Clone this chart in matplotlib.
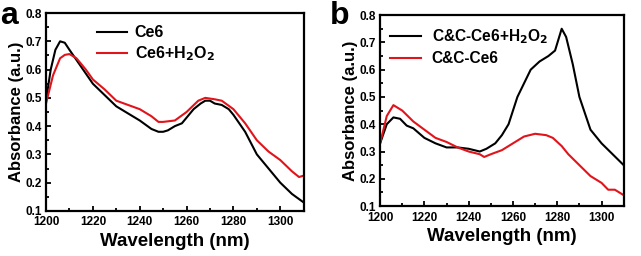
import numpy as np
import matplotlib
matplotlib.use("Agg")
import matplotlib.pyplot as plt
from matplotlib.ticker import MultipleLocator

plt.rcParams['font.family'] = ['Liberation Sans', 'DejaVu Sans']
plt.rcParams['font.weight'] = 'bold'

# Panel a
a_ce6_x = [1200, 1202, 1204, 1206, 1208, 1210, 1215, 1220, 1225, 1230, 1235, 1240, 1245, 1248, 1250, 1252, 1255, 1258,
           1260, 1263, 1266, 1268, 1270, 1272, 1275, 1278, 1280, 1285, 1290, 1295, 1300, 1305, 1310]
a_ce6_y = [0.49, 0.60, 0.67, 0.70, 0.695, 0.67, 0.61, 0.55, 0.51, 0.47, 0.445, 0.42, 0.39, 0.38, 0.38, 0.385, 0.40, 0.41,
           0.43, 0.46, 0.48, 0.49, 0.49, 0.48, 0.475, 0.46, 0.44, 0.38, 0.30, 0.25, 0.20, 0.16, 0.13]
a_h2o2_x = [1200, 1203, 1206, 1208, 1210, 1213, 1217, 1220, 1225, 1230, 1235, 1240, 1245, 1248, 1250, 1255, 1260, 1265,
            1268, 1272, 1275, 1280, 1285, 1290, 1295, 1300, 1305, 1308, 1310]
a_h2o2_y = [0.48, 0.58, 0.64, 0.652, 0.655, 0.64, 0.60, 0.565, 0.53, 0.49, 0.475, 0.46, 0.435, 0.415, 0.415, 0.42, 0.45, 0.49,
            0.50, 0.495, 0.49, 0.46, 0.41, 0.35, 0.31, 0.28, 0.24, 0.22, 0.225]

# Panel b
b_h2o2_x = [1200, 1203, 1206, 1209, 1212, 1215, 1220, 1225, 1230, 1235, 1240, 1245, 1248, 1252, 1255, 1258, 1262, 1265,
            1268, 1272, 1276, 1279, 1282, 1284, 1287, 1290, 1295, 1300, 1305, 1310]
b_h2o2_y = [0.33, 0.40, 0.425, 0.42, 0.395, 0.385, 0.35, 0.33, 0.315, 0.315, 0.31, 0.30, 0.31, 0.33, 0.36, 0.40, 0.50, 0.55,
            0.60, 0.63, 0.65, 0.67, 0.75, 0.72, 0.62, 0.50, 0.38, 0.33, 0.29, 0.25]
b_cc_x = [1200, 1203, 1206, 1210, 1215, 1220, 1225, 1230, 1235, 1240, 1245, 1247, 1250, 1255, 1260, 1265, 1270, 1275,
          1278, 1282, 1285, 1290, 1295, 1300, 1303, 1306, 1310]
b_cc_y = [0.33, 0.43, 0.47, 0.45, 0.41, 0.38, 0.35, 0.335, 0.315, 0.30, 0.29, 0.28, 0.29, 0.305, 0.33, 0.355, 0.365, 0.36,
          0.35, 0.32, 0.29, 0.25, 0.21, 0.185, 0.16, 0.16, 0.14]

fig = plt.figure(figsize=(6.41, 2.56), dpi=100)
ax1 = fig.add_axes([0.0718, 0.176, 0.402, 0.773])
ax2 = fig.add_axes([0.593, 0.195, 0.380, 0.746])

def style(ax):
    ax.set_xlim(1200, 1310)
    ax.set_ylim(0.1, 0.8)
    ax.xaxis.set_major_locator(MultipleLocator(20))
    ax.xaxis.set_minor_locator(MultipleLocator(10))
    ax.yaxis.set_major_locator(MultipleLocator(0.1))
    ax.yaxis.set_minor_locator(MultipleLocator(0.05))
    ax.tick_params(which='both', direction='in', labelsize=8.5, width=1.3)
    ax.tick_params(which='major', length=3.5)
    ax.tick_params(which='minor', length=2)
    ax.tick_params(axis='x', pad=4)
    ax.tick_params(axis='y', pad=3)
    for lab in ax.get_xticklabels() + ax.get_yticklabels():
        lab.set_fontweight('bold')
    for s in ax.spines.values():
        s.set_linewidth(1.6)
    ax.set_xlabel('Wavelength (nm)', fontsize=13.5, fontweight='bold', labelpad=3)
    ax.set_ylabel('Absorbance (a.u.)', fontsize=12, fontweight='bold', labelpad=1)

ax1.plot(a_ce6_x, a_ce6_y, color='black', lw=1.5, label='Ce6')
ax1.plot(a_h2o2_x, a_h2o2_y, color='#e0141a', lw=1.5, label='Ce6+H$_\\mathbf{2}$O$_\\mathbf{2}$')
style(ax1)
ax1.legend(loc='upper left', bbox_to_anchor=(0.155, 0.995), frameon=False, fontsize=11.5,
           handlelength=1.9, handletextpad=0.45, labelspacing=0.25, borderaxespad=0.3)

ax2.plot(b_h2o2_x, b_h2o2_y, color='black', lw=1.5, label='C&C-Ce6+H$_\\mathbf{2}$O$_\\mathbf{2}$')
ax2.plot(b_cc_x, b_cc_y, color='#e0141a', lw=1.5, label='C&C-Ce6')
style(ax2)
ax2.legend(loc='upper left', bbox_to_anchor=(-0.005, 0.995), frameon=False, fontsize=11.2,
           handlelength=2.0, handletextpad=0.7, labelspacing=0.35, borderaxespad=0.3)

fig.text(0.0, 0.995, 'a', fontsize=23, fontweight='bold', va='top', ha='left')
fig.text(0.514, 0.995, 'b', fontsize=23, fontweight='bold', va='top', ha='left')

fig.savefig('out.png', dpi=100)
